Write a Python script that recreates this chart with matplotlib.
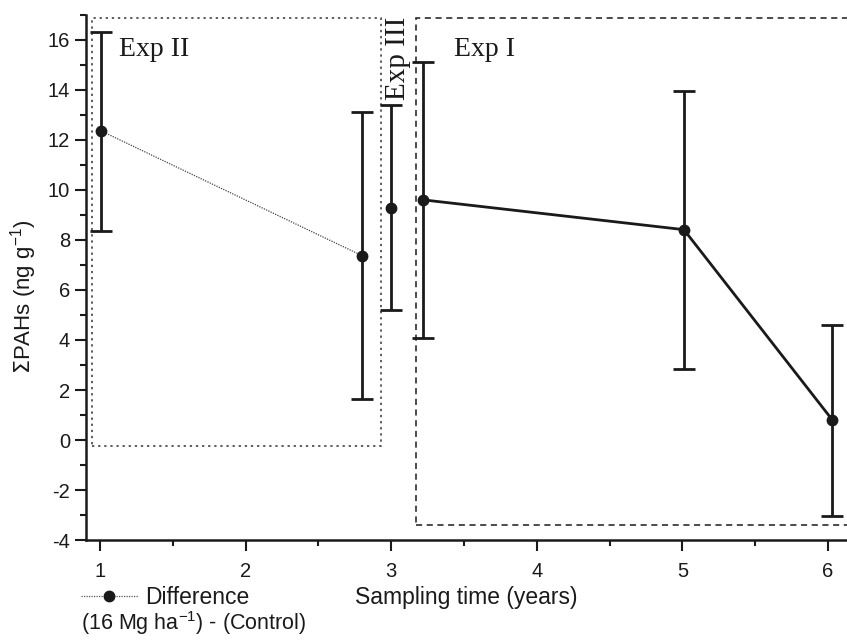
import numpy as np
from matplotlib import pyplot as plt
from matplotlib.ticker import MultipleLocator
from matplotlib.patches import Rectangle
from matplotlib.lines import Line2D

# Exp II (dotted connection)
x_exp2 = [1.01, 2.80]
y_exp2 = [12.35, 7.37]
lo_exp2 = [8.37, 1.63]
hi_exp2 = [16.30, 13.12]

# Exp III (single point)
x_exp3 = [3.0]
y_exp3 = [9.28]
lo_exp3 = [5.2]
hi_exp3 = [13.38]

# Exp I (solid connection)
x_exp1 = [3.22, 5.01, 6.03]
y_exp1 = [9.60, 8.41, 0.80]
lo_exp1 = [4.07, 2.84, -3.03]
hi_exp1 = [15.13, 13.97, 4.60]

plt.rcParams['font.family'] = ['Liberation Sans', 'DejaVu Sans']
plt.rcParams['axes.unicode_minus'] = False

fig = plt.figure(figsize=(8.47, 6.4), dpi=100)
ax = fig.add_axes([0.1015, 0.156, 0.8985, 0.821])

def errs(y, lo, hi):
    y = np.array(y)
    return [y - np.array(lo), np.array(hi) - y]

ink = '#1a1a1a'
for xs, ys, lo, hi in [(x_exp2, y_exp2, lo_exp2, hi_exp2),
                       (x_exp3, y_exp3, lo_exp3, hi_exp3),
                       (x_exp1, y_exp1, lo_exp1, hi_exp1)]:
    ax.errorbar(xs, ys, yerr=errs(ys, lo, hi), fmt='none',
                ecolor=ink, elinewidth=2, capsize=8, capthick=2)
ax.plot(x_exp2, y_exp2, color='#444444', lw=0.9, ls=(0, (1, 1)))
ax.plot(x_exp1, y_exp1, color=ink, lw=2)
ax.plot(x_exp2 + x_exp3 + x_exp1, y_exp2 + y_exp3 + y_exp1, 'o',
        color=ink, ms=7.5, zorder=5)

# experiment boxes
ax.add_patch(Rectangle((0.947, -0.23), 2.93 - 0.947, 16.87 + 0.23, fill=False,
                       ls=(0, (1.5, 2.5)), lw=1.1, ec='#333333', clip_on=False))
ax.add_patch(Rectangle((3.17, -3.39), 6.2 - 3.17, 16.87 + 3.39, fill=False,
                       ls=(0, (4, 3)), lw=1.1, ec=ink, clip_on=False))

ax.text(1.13, 15.6, 'Exp II', family='Liberation Serif', fontsize=20, color=ink,
        va='center')
ax.text(3.43, 15.6, 'Exp I', family='Liberation Serif', fontsize=20, color=ink,
        va='center')
ax.text(3.045, 15.24, 'Exp III', family='Liberation Serif', fontsize=21, color=ink,
        rotation=90, ha='center', va='center')

ax.set_xlim(0.904, 6.13)
ax.set_ylim(-4, 17)
ax.xaxis.set_major_locator(MultipleLocator(1))
ax.xaxis.set_minor_locator(MultipleLocator(0.5))
ax.yaxis.set_major_locator(MultipleLocator(2))
ax.yaxis.set_minor_locator(MultipleLocator(1))
ax.tick_params(which='major', length=8, width=1.5, labelsize=14.5, colors=ink)
ax.tick_params(which='minor', length=4, width=1.5, colors=ink)
ax.tick_params(axis='x', pad=8)
for s in ['top', 'right']:
    ax.spines[s].set_visible(False)
for s in ['left', 'bottom']:
    ax.spines[s].set_linewidth(1.8)
    ax.spines[s].set_color(ink)

ax.set_ylabel(r'$\Sigma$PAHs (ng g$^{\mathregular{-1}}$)', fontsize=16, color=ink)
ax.yaxis.set_label_coords(-0.062, 0.4625)
fig.text(0.55, 0.066, 'Sampling time (years)', fontsize=16.5, color=ink,
         ha='center', va='center')

# legend drawn at the lower left
fig.add_artist(Line2D([0.096, 0.163], [0.068, 0.068], color='#555555', lw=0.9,
                      ls=(0, (1, 1))))
fig.add_artist(Line2D([0.129], [0.068], marker='o', color=ink, ms=7.5))
fig.text(0.171, 0.066, 'Difference', fontsize=16.5, color=ink, va='center')
fig.text(0.096, 0.026, r'(16 Mg ha$^{\mathregular{-1}}$) - (Control)', fontsize=15.5,
         color=ink, va='center')

fig.savefig('out.png', dpi=100)
